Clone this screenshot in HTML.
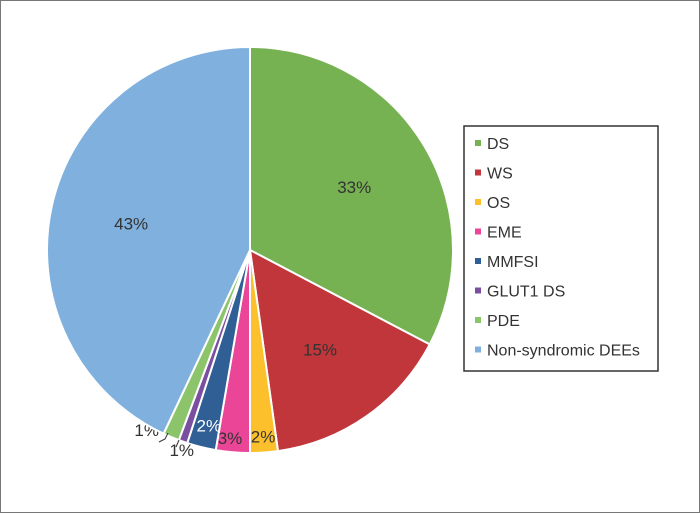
<!DOCTYPE html>
<html><head><meta charset="utf-8"><style>
body{margin:0;background:#fff;}
#wrap{position:relative;width:700px;height:513px;box-sizing:border-box;border:1px solid #777;background:#fff;font-family:"Liberation Sans",sans-serif;}
svg{position:absolute;left:0;top:0;}
</style></head><body>
<div id="wrap">
<svg id="chart" width="700" height="513"></svg>
</div>
<script>
const categories=["DS","WS","OS","EME","MMFSI","GLUT1 DS","PDE","Non-syndromic DEEs"];
const values=[32.7,15.1,2.2,2.7,2.3,0.7,1.3,43.0];
const labels=["33%","15%","2%","3%","2%","1%","1%","43%"];
const colors=["#76b152","#c0363a","#fcc02c","#ea4597","#2f5f95","#7b4fa0","#8cc46c","#7fb0de"];
const NS="http://www.w3.org/2000/svg";
const svg=document.getElementById('chart');
const cx=249,cy=249,R=203;
const total=values.reduce((a,b)=>a+b,0);
function pt(a,r){return [cx+r*Math.sin(a),cy-r*Math.cos(a)];}
let acc=0;
const labelOff=[[0,0],[0,0],[0,-2],[-4,0],[4,-8],[-6,22],[-30,6],[0,0]];
values.forEach((v,i)=>{
  const a0=acc/total*2*Math.PI;acc+=v;const a1=acc/total*2*Math.PI;
  const p0=pt(a0,R),p1=pt(a1,R);
  const path=document.createElementNS(NS,'path');
  path.setAttribute('d',`M${cx},${cy}L${p0[0]},${p0[1]}A${R},${R} 0 ${a1-a0>Math.PI?1:0} 1 ${p1[0]},${p1[1]}Z`);
  path.setAttribute('fill',colors[i]);path.setAttribute('stroke','#fff');path.setAttribute('stroke-width','2');
  
  
  svg.appendChild(path);
  const am=(a0+a1)/2;
  const rr=v<5?R*0.93:R*0.6;
  const lp=pt(am,rr);
  const t=document.createElementNS(NS,'text');
  t.setAttribute('x',lp[0]+labelOff[i][0]);t.setAttribute('y',lp[1]+labelOff[i][1]+6);
  t.setAttribute('text-anchor','middle');t.setAttribute('font-size','17');
  t.setAttribute('fill',i==4?'#fff':'#333');
  
  
  t.textContent=labels[i];svg.appendChild(t);
});
// leader lines
const l1=document.createElementNS(NS,'path');
l1.setAttribute('d','M158,441 L164,438 L167,432');l1.setAttribute('stroke','#333');l1.setAttribute('fill','none');


svg.appendChild(l1);
const l2=document.createElementNS(NS,'path');
l2.setAttribute('d','M175,446 L178,439');l2.setAttribute('stroke','#333');


svg.appendChild(l2);
// legend
const box=document.createElementNS(NS,'rect');
box.setAttribute('x',463);box.setAttribute('y',125);box.setAttribute('width',194);box.setAttribute('height',245);
box.setAttribute('fill','#fff');box.setAttribute('stroke','#333');box.setAttribute('stroke-width','1.5');


svg.appendChild(box);
categories.forEach((c,i)=>{
  const y=142+i*29.5;
  const r=document.createElementNS(NS,'rect');
  r.setAttribute('x',474);r.setAttribute('y',y-3);r.setAttribute('width',6);r.setAttribute('height',6);r.setAttribute('fill',colors[i]);
  
  
  svg.appendChild(r);
  const t=document.createElementNS(NS,'text');
  t.setAttribute('x',486);t.setAttribute('y',y+6);t.setAttribute('font-size','16');t.setAttribute('fill','#333');
  
  
  t.textContent=c;svg.appendChild(t);
});
</script>
</body></html>
